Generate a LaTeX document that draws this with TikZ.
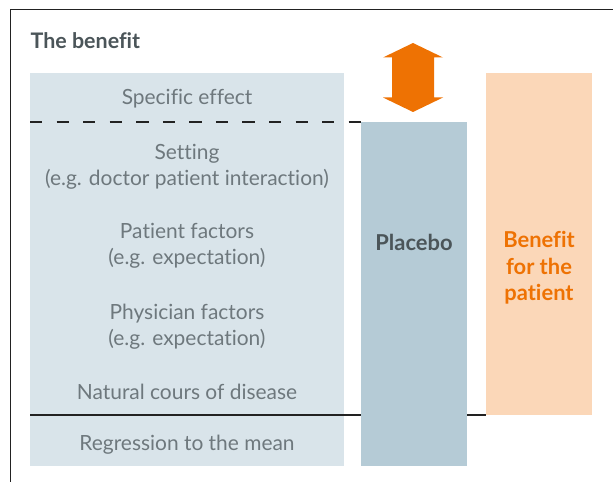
\documentclass[tikz,border=0pt]{standalone}
\usepackage{fontspec}
\setmainfont{Lato}[Ligatures={NoCommon,NoDiscretionary}]
\definecolor{boxblue}{HTML}{D9E4EA}
\definecolor{placeboblue}{HTML}{B5CBD6}
\definecolor{lightorange}{HTML}{FBD7B8}
\definecolor{strongorange}{HTML}{EE7203}
\definecolor{darktext}{HTML}{4B5559}
\definecolor{bodytext}{HTML}{6E787D}
\definecolor{framecol}{HTML}{222222}
\begin{document}
\begin{tikzpicture}[x=1bp,y=-1bp,
  bodylabel/.style={text=bodytext,align=center,inner sep=0pt,font=\fontsize{21}{26}\selectfont},
  boldlabel/.style={align=center,inner sep=0pt,font=\fontsize{22}{26.7}\selectfont\bfseries}]
\useasboundingbox (0,0) rectangle (613,482);
% frame
\draw[framecol,line width=1.4bp] (10.5,482) -- (10.5,9.5) -- (613,9.5);
% title
\node[anchor=west,text=darktext,inner sep=0pt,font=\fontsize{21.5}{24}\selectfont\bfseries] (title) at (30.5,41) {The benefit};
% boxes
\fill[boxblue] (30,73) rectangle (344,466);
\fill[lightorange] (486,73) rectangle (592,415);
% separator lines
\coordinate (dashL) at (30,122);
\coordinate (dashR) at (361,122);
\coordinate (solL) at (30,415);
\coordinate (solR) at (486,415);
\draw[framecol,line width=1.2bp,dash pattern=on 12.3bp off 14.26bp] (dashL) -- (dashR);
\draw[framecol,line width=1.2bp] (solL) -- (solR);
% placebo box
\fill[placeboblue] (361,122) rectangle (467,466);
% arrow
\fill[strongorange] (413,43) -- (443,57.5) -- (434,57.5) -- (434,97.5) -- (443,97.5) -- (413,112)
  -- (383,97.5) -- (392,97.5) -- (392,57.5) -- (383,57.5) -- cycle;
% left texts
\node[bodylabel] (spec) at (187,98.5) {Specific effect};
\node[bodylabel] (setting) at (187,166.5) {Setting\\(e.g. doctor patient interaction)};
\node[bodylabel] (patient) at (187,245.5) {Patient factors\\(e.g. expectation)};
\node[bodylabel] (phys) at (187,326.5) {Physician factors\\(e.g. expectation)};
\node[bodylabel] (natural) at (187,391.5) {Natural cours of disease};
\node[bodylabel] (regr) at (187,444.5) {Regression to the mean};
% right texts
\node[boldlabel,text=darktext] (placebo) at (414,242) {Placebo};
\node[boldlabel,text=strongorange] (benefit) at (539,268) {Benefit\\for the\\patient};
\end{tikzpicture}
\end{document}
